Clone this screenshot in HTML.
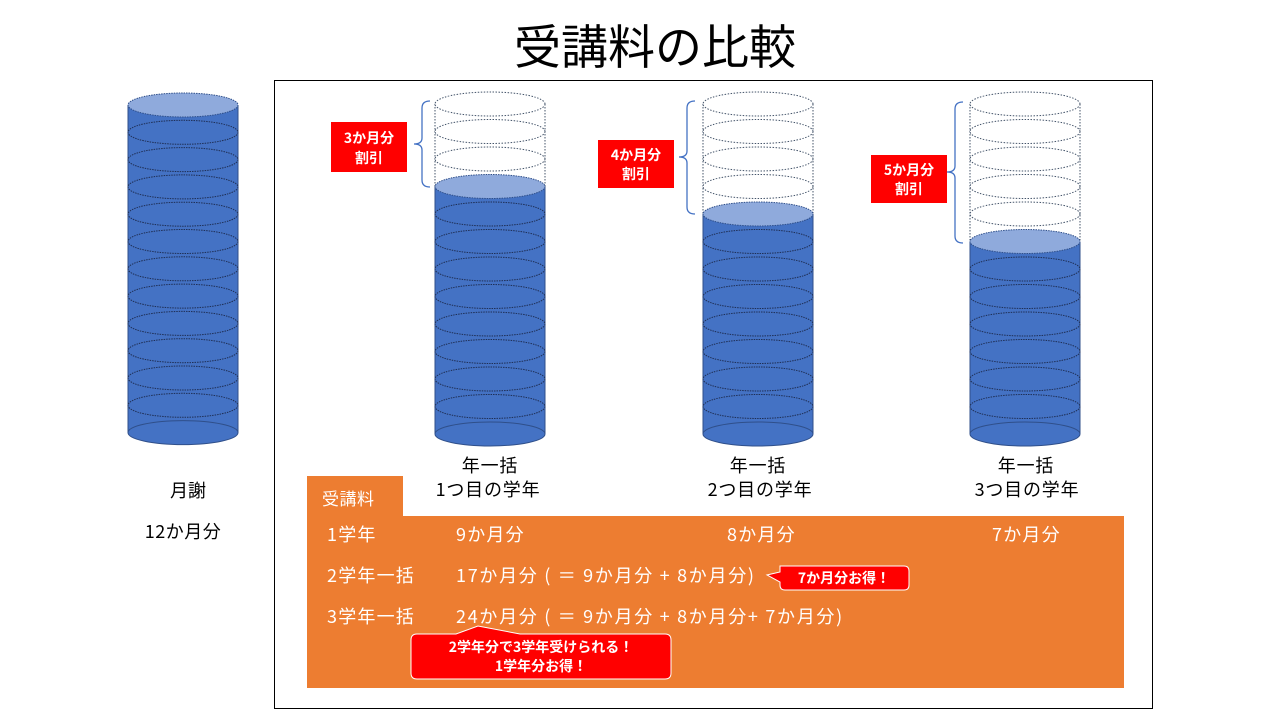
<!DOCTYPE html>
<html><head><meta charset="utf-8"><style>
body{margin:0;width:1280px;height:720px;background:#fff;overflow:hidden;font-family:"Liberation Sans","Noto Sans CJK JP",sans-serif}
</style></head><body>
<svg width="1280" height="720" xmlns="http://www.w3.org/2000/svg" font-family="Noto Sans CJK JP, sans-serif">
<text x="655" y="64" font-size="47" text-anchor="middle" fill="#000">受講料の比較</text>
<rect x="274.5" y="80.5" width="878" height="628" fill="none" stroke="#000" stroke-width="1"/>
<g id="stacks"></g>
<text x="188" y="497" font-size="18" text-anchor="middle">月謝</text>
<text x="183" y="538" font-size="18" text-anchor="middle" letter-spacing="0.5">12か月分</text>
<g font-size="18" text-anchor="middle" letter-spacing="0.8">
<text x="490" y="472">年一括</text><text x="488" y="496">1つ目の学年</text>
<text x="758" y="472">年一括</text><text x="760" y="496">2つ目の学年</text>
<text x="1026" y="472">年一括</text><text x="1027" y="496">3つ目の学年</text>
</g>
<g font-size="14" font-weight="bold" fill="#fff" text-anchor="middle">
<rect x="331" y="122" width="76" height="50" fill="#f00"/><text x="369" y="143">3か月分</text><text x="369" y="163">割引</text>
<rect x="598" y="140" width="76" height="48" fill="#f00"/><text x="636" y="160">4か月分</text><text x="636" y="179">割引</text>
<rect x="871" y="155" width="76" height="48" fill="#f00"/><text x="909" y="175">5か月分</text><text x="909" y="194">割引</text>
</g>
<g fill="none" stroke="#4472c4" stroke-width="1.3">
<path d="M430 101 Q422 101 422 108 V138 Q422 144 414 144 Q422 144 422 150 V180 Q422 187 430 187"/>
<path d="M695 101 Q687 101 687 108 V151 Q687 157 679 157 Q687 157 687 163 V207 Q687 214 695 214"/>
<path d="M963 102 Q955 102 955 109 V166 Q955 172 947 172 Q955 172 955 178 V236 Q955 243 963 243"/>
</g>
<rect x="307" y="476" width="96" height="42" fill="#ed7d31"/>
<rect x="307" y="516" width="817" height="172" fill="#ed7d31"/>
<g font-size="18" fill="#fff" letter-spacing="1.2">
<text x="322" y="505" font-size="17" letter-spacing="0.5">受講料</text>
<text x="327" y="541">1学年</text><text x="456" y="541">9か月分</text><text x="727" y="541">8か月分</text><text x="992" y="541">7か月分</text>
<text x="327" y="582">2学年一括</text><text x="456" y="582" letter-spacing="1.7">17か月分 ( ＝ 9か月分 + 8か月分)</text>
<text x="327" y="623">3学年一括</text><text x="456" y="623" letter-spacing="1.7">24か月分 ( ＝ 9か月分 + 8か月分+ 7か月分)</text>
</g>
<path d="M780 566 H904 Q909 566 909 571 V585 Q909 590 904 590 H785 Q780 590 780 585 V582 L767 575 L780 572 Z" fill="#f00" stroke="#fff" stroke-width="1"/>
<text x="844" y="583" font-size="14" font-weight="bold" fill="#fff" text-anchor="middle">7か月分お得！</text>
<path d="M417 634 H456 L478 626 L520 634 H665 Q671 634 671 640 V673 Q671 679 665 679 H417 Q411 679 411 673 V640 Q411 634 417 634 Z" fill="#f00" stroke="#fff" stroke-width="1"/>
<g font-size="14" font-weight="bold" fill="#fff" text-anchor="middle"><text x="541" y="652">2学年分で3学年受けられる！</text><text x="541" y="671">1学年分お得！</text></g>
</svg>
<script>
const NS="http://www.w3.org/2000/svg",g=document.getElementById("stacks");
function el(t,a){const e=document.createElementNS(NS,t);for(const k in a)e.setAttribute(k,a[k]);g.appendChild(e);return e;}
function stack(cx,top,nEmpty,nFill,s){
 const rx=55,ry=12;
 const ft=top+nEmpty*s, bot=ft+nFill*s;
 if(nEmpty>0){
  el("line",{x1:cx-rx,y1:top,x2:cx-rx,y2:ft,stroke:"#44546a","stroke-dasharray":"1.5 1.5","stroke-width":1});
  el("line",{x1:cx+rx,y1:top,x2:cx+rx,y2:ft,stroke:"#44546a","stroke-dasharray":"1.5 1.5","stroke-width":1});
  for(let i=0;i<nEmpty;i++)el("ellipse",{cx:cx,cy:top+i*s,rx:rx,ry:ry,fill:"#fff",stroke:"#44546a","stroke-dasharray":"1.5 1.5","stroke-width":1});
 }
 el("rect",{x:cx-rx,y:ft,width:2*rx,height:bot-ft,fill:"#4472c4"});
 el("ellipse",{cx:cx,cy:bot,rx:rx,ry:ry,fill:"#4472c4",stroke:"#2f4f8a","stroke-width":1});
 el("line",{x1:cx-rx,y1:ft,x2:cx-rx,y2:bot,stroke:"#2f4f8a","stroke-width":1});
 el("line",{x1:cx+rx,y1:ft,x2:cx+rx,y2:bot,stroke:"#2f4f8a","stroke-width":1});
 for(let i=1;i<nFill;i++)el("ellipse",{cx:cx,cy:ft+i*s,rx:rx,ry:ry,fill:"none",stroke:"#1f2f55","stroke-dasharray":"1.5 1","stroke-width":1});
 el("ellipse",{cx:cx,cy:ft,rx:rx,ry:ry,fill:"#8faadc",stroke:"#2f4f8a","stroke-dasharray":"1.5 1","stroke-width":1});
}
stack(183,105,0,12,27.3);
stack(490,104,3,9,27.5);
stack(758,104,4,8,27.5);
stack(1025,104,5,7,27.5);
</script>
</body></html>
